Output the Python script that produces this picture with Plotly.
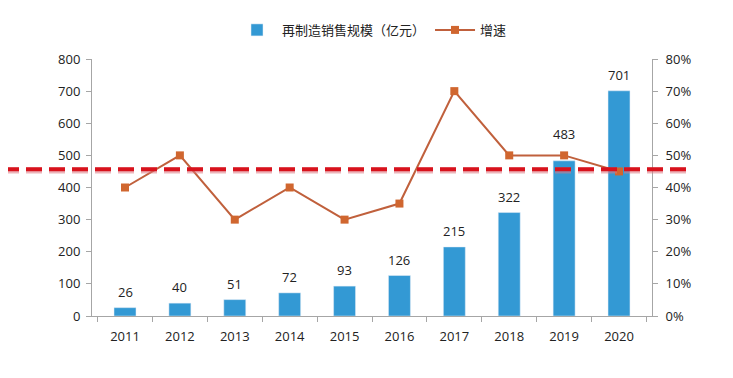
import plotly.graph_objects as go

years = ["2011", "2012", "2013", "2014", "2015", "2016", "2017", "2018", "2019", "2020"]
sales = [26, 40, 51, 72, 93, 126, 215, 322, 483, 701]
growth = [0.40, 0.50, 0.30, 0.40, 0.30, 0.35, 0.70, 0.50, 0.50, 0.45]
ref_level = 457

font_family = "Open Sans, Liberation Sans, Noto Sans CJK SC"

fig = go.Figure()
fig.add_trace(go.Bar(
    x=years, y=sales, name="再制造销售规模（亿元）",
    marker=dict(color="#3399d4"), width=0.4,
))
fig.add_trace(go.Scatter(
    x=years, y=growth, name="增速", yaxis="y2", mode="lines+markers",
    line=dict(color="#c0603c", width=2),
    marker=dict(symbol="square", size=8, color="#d0662f"),
))

# bar value labels (the 2019 label is lifted above the growth marker)
for i, (yr, v) in enumerate(zip(years, sales)):
    fig.add_annotation(x=i, y=v, xref="x", yref="y", text=str(v), showarrow=False,
                       yanchor="bottom", yshift=16 if yr == "2019" else 5,
                       font=dict(size=13, color="#222"))

# dashed reference line (with pale shadow)
fig.add_shape(type="line", xref="paper", yref="y", x0=-0.2, x1=1.071, y0=ref_level - 4, y1=ref_level - 4,
              line=dict(color="rgba(220,120,130,0.55)", width=6, dash="16px,7px"), layer="above")
fig.add_shape(type="line", xref="paper", yref="y", x0=-0.2, x1=1.071, y0=ref_level, y1=ref_level,
              line=dict(color="#d8121c", width=4, dash="16px,7px"), layer="above")

fig.update_layout(
    width=733, height=378,
    margin=dict(l=84, r=89, t=51, b=70, autoexpand=False),
    paper_bgcolor="white", plot_bgcolor="white",
    font=dict(family=font_family, size=13, color="#222"),
    showlegend=True,
    legend=dict(orientation="h", x=0.5, xanchor="center", y=1.113, yanchor="middle",
                font=dict(size=13), itemwidth=40, traceorder="normal"),
    bargap=0.6,
    xaxis=dict(type="category", showline=True, linecolor="#a6a6a6", linewidth=1, ticks="outside",
               tickson="boundaries", ticklen=5, tickcolor="#a6a6a6", showgrid=False,
               tickfont=dict(size=13), ticklabelstandoff=8),
    yaxis=dict(range=[0, 800], dtick=100, showline=True, linecolor="#a6a6a6", linewidth=1,
               ticks="outside", ticklen=5, tickcolor="#a6a6a6", showgrid=False, zeroline=False,
               tickfont=dict(size=13), ticklabelstandoff=3),
    yaxis2=dict(range=[0, 0.8], dtick=0.1, tickformat=".0%", overlaying="y", side="right",
                showline=True, linecolor="#a6a6a6", linewidth=1, ticks="outside", ticklen=5,
                tickcolor="#a6a6a6", showgrid=False, zeroline=False, tickfont=dict(size=13),
                ticklabelstandoff=5),
)

fig.write_html("out.html")
